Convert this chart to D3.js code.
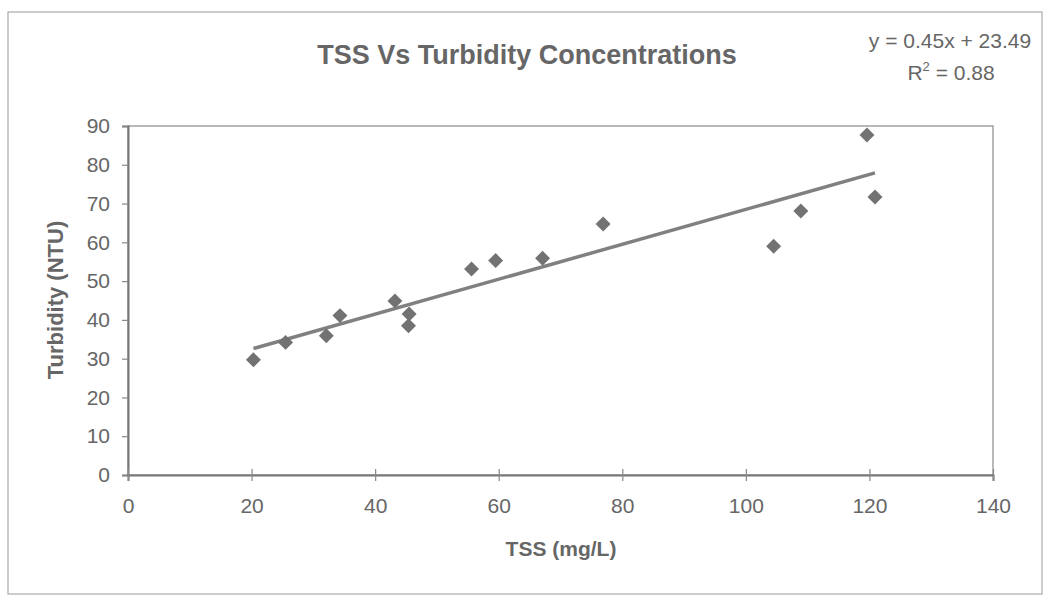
<!DOCTYPE html>
<html><head><meta charset="utf-8">
<script src="https://cdn.jsdelivr.net/npm/d3@7"></script>
<style>body{margin:0;background:#fff}svg{display:block;font-family:"Liberation Sans",Arial,sans-serif}</style>
</head><body><svg id="c" width="1045" height="597"></svg>
<script>
const tss = [20.3,25.5,32.1,34.3,43.2,45.5,45.4,55.6,59.5,67.1,76.9,104.5,108.9,119.6,120.9];
const turbidity = [29.7,34.2,35.9,41.1,44.9,41.5,38.5,53.1,55.3,55.9,64.7,59.0,68.1,87.7,71.7];
const xTicks = [0,20,40,60,80,100,120,140];
const yTicks = [0,10,20,30,40,50,60,70,80,90];
const slope = 0.45, intercept = 23.49, rSquared = 0.88;
const trendRange = [20.3,120.9];
const title = "TSS Vs Turbidity Concentrations";
const xLabel = "TSS (mg/L)", yLabel = "Turbidity (NTU)";

const svg = d3.select("#c");
const L=128,R=993,T=126,B=475;
const x = d3.scaleLinear().domain([0,140]).range([L,R]);
const y = d3.scaleLinear().domain([0,90]).range([B,T]);
const tc="#666";

// outer frame
svg.append("rect").attr("x",8).attr("y",12).attr("width",1034).attr("height",582)
  .attr("fill","none").attr("stroke","#aaa").attr("stroke-width",1.2);

// plot frame
svg.append("rect").attr("x",L).attr("y",T).attr("width",R-L).attr("height",B-T)
  .attr("fill","none").attr("stroke","#8a8a8a").attr("stroke-width",1.2);

const ya = svg.append("g").attr("transform",`translate(${L},0)`)
  .call(d3.axisLeft(y).tickValues(yTicks).tickSize(6).tickPadding(12));
const xa = svg.append("g").attr("transform",`translate(0,${B})`)
  .call(d3.axisBottom(x).tickValues(xTicks).tickSize(6).tickPadding(17));
xa.selectAll(".tick line").attr("y1",-6).attr("y2",6);
[ya,xa].forEach(g=>{
  g.select(".domain").attr("stroke","#777").attr("stroke-width",2);
  g.selectAll(".tick line").attr("stroke","#888").attr("stroke-width",1.2);
  g.selectAll("text").attr("fill",tc).attr("font-size",21).attr("font-family","Liberation Sans, Arial, sans-serif");
});

// trend line
svg.append("line")
  .attr("x1",x(trendRange[0])).attr("y1",y(slope*trendRange[0]+intercept))
  .attr("x2",x(trendRange[1])).attr("y2",y(slope*trendRange[1]+intercept))
  .attr("stroke","#808080").attr("stroke-width",3.5);

// points
svg.append("g").selectAll("path").data(tss.map((v,i)=>[v,turbidity[i]])).join("path")
  .attr("d",d3.symbol(d3.symbolSquare,112))
  .attr("transform",d=>`translate(${x(d[0])},${y(d[1])}) rotate(45)`)
  .attr("fill","#727272");

// titles
svg.append("text").attr("x",527).attr("y",64).attr("text-anchor","middle")
  .attr("font-size",27).attr("font-weight","bold").attr("fill",tc).text(title);
svg.append("text").attr("x",950).attr("y",48).attr("text-anchor","middle")
  .attr("font-size",21).attr("fill",tc).text(`y = ${slope}x + ${intercept}`);
const r2 = svg.append("text").attr("x",951).attr("y",80).attr("text-anchor","middle")
  .attr("font-size",21).attr("fill",tc);
r2.append("tspan").text("R");
r2.append("tspan").attr("dy",-9).attr("font-size",13).text("2");
r2.append("tspan").attr("dy",9).text(` = ${rSquared}`);

svg.append("text").attr("x",561).attr("y",556).attr("text-anchor","middle")
  .attr("font-size",21).attr("font-weight","bold").attr("fill",tc).text(xLabel);
svg.append("text").attr("transform","translate(63,300) rotate(-90)").attr("text-anchor","middle")
  .attr("font-size",22).attr("font-weight","bold").attr("fill",tc).text(yLabel);
</script></body></html>
